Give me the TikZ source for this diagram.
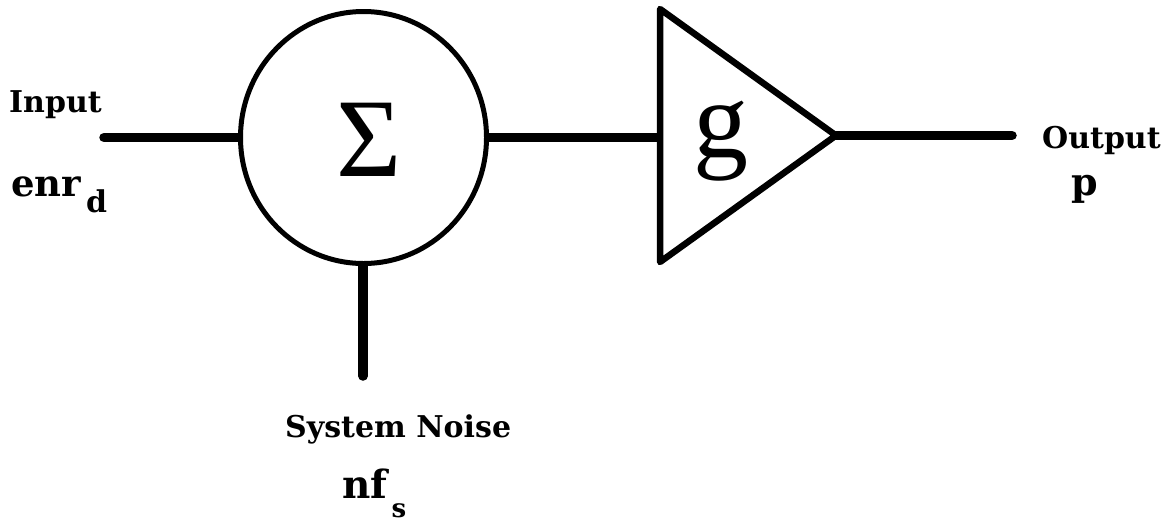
\documentclass[tikz,border=0pt]{standalone}
\usepackage{fontspec}
\setmainfont{DejaVu Serif}
\newfontfamily\symfont{Liberation Serif}
\usetikzlibrary{calc,shapes.geometric}
\tikzset{
  x=1pt,y=-1pt,
  wire/.style={line width=9.5pt,line cap=round,black},
  ringline/.style={line width=5pt,black},
  shapeline/.style={line width=6.5pt,black,line join=round},
  lab/.style={inner sep=0pt,anchor=base west,font=\bfseries\fontsize{30}{32}\selectfont},
  bigsym/.style={inner sep=0pt,anchor=center}
}
\begin{document}
\begin{tikzpicture}
\useasboundingbox (0,0) rectangle (1175,523);
\node[ellipse,draw,ringline,minimum width=246pt,minimum height=252pt,inner sep=0pt] (sum) at (363.5,137.5) {};
\node[bigsym,font=\symfont\fontsize{112}{116}\selectfont] (sigma) at (369,140) {Σ};
\coordinate (t1) at (660,9);
\coordinate (t2) at (660,262);
\coordinate (t3) at (836,135.5);
\draw[shapeline] (t1) -- (t2) -- (t3) -- cycle;
\node[inner sep=0pt,anchor=base,font=\symfont\fontsize{110}{114}\selectfont] (gain) at (721,157) {g};
\coordinate (in) at (104,137.5);
\coordinate (out) at (1012,135.5);
\coordinate (noise) at (363,376);
\draw[wire] (in) -- (sum.west);
\draw[wire,shorten >=3pt] (sum.east) -- (t2 |- sum.east);
\draw[wire] (t3) -- (out);
\draw[wire] (noise) -- (noise |- sum.south);
\node[lab] (inputl) at (9,112) {Input};
\node[lab,font=\bfseries\fontsize{37}{40}\selectfont] (enr) at (11,196) {enr\raisebox{-16pt}{\fontsize{30}{30}\selectfont\,d}};
\node[lab] (outputl) at (1042,148) {Output};
\node[lab,font=\bfseries\fontsize{38}{40}\selectfont] (p) at (1071,195) {p};
\node[lab] (sys) at (285,437) {System Noise};
\node[lab,font=\bfseries\fontsize{39}{42}\selectfont] (nf) at (342,498) {nf\raisebox{-19pt}{\fontsize{26}{28}\selectfont\,s}};
\end{tikzpicture}
\end{document}
